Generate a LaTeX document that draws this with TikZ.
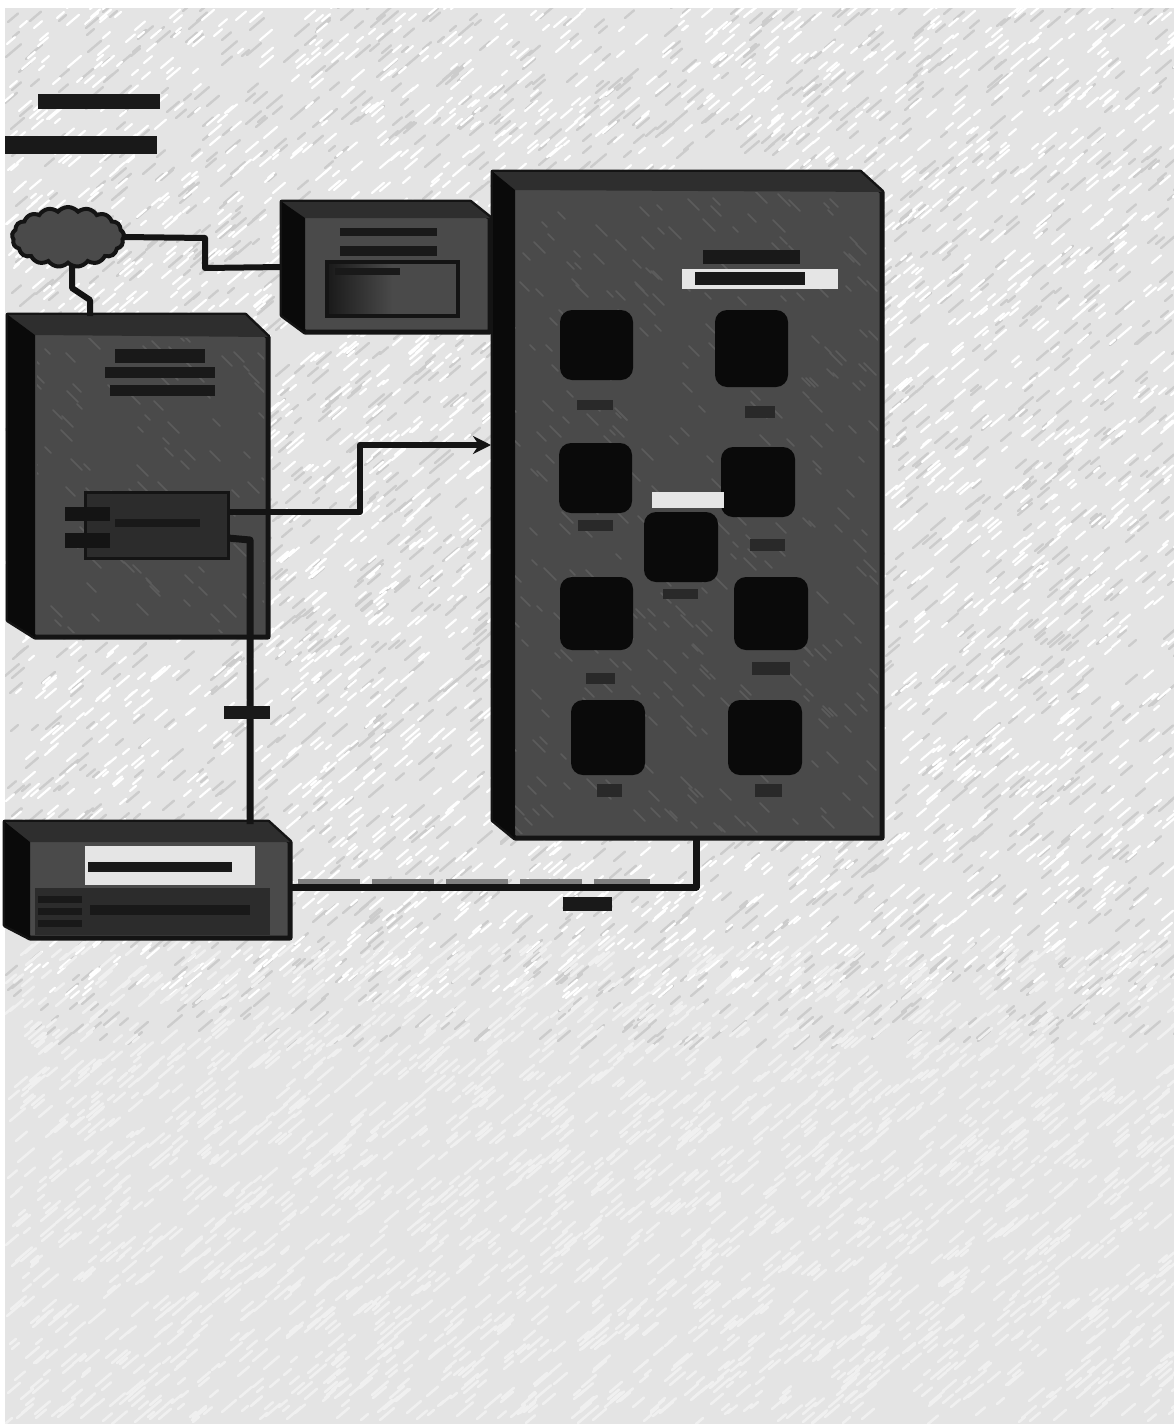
\documentclass[tikz,border=0pt]{standalone}
\usetikzlibrary{fit,shapes.symbols,arrows.meta,calc}
\definecolor{pagegray}{HTML}{E4E4E4}
\definecolor{facegray}{HTML}{4A4A4A}
\definecolor{edgedark}{HTML}{141414}
\definecolor{bevelblack}{HTML}{0A0A0A}
\definecolor{innerdark}{HTML}{2C2C2C}
\tikzset{
  every node/.style={inner sep=0pt,outer sep=0pt},
  panelface/.style={fill=facegray,draw=edgedark,line width=5pt,line join=round},
  bevel/.style={fill=bevelblack,draw=none},
  bevelmid/.style={fill=black!82,draw=none},
  dbunit/.style={fill=black!96,rounded corners=12pt},
  smudge/.style={fill=black!90,draw=none},
  softsmudge/.style={fill=black!84,draw=none},
  strip/.style={fill=white!90!black,draw=none},
  wire/.style={draw=edgedark,line width=6pt,line join=round},
  texbright/.style={draw=white,line width=2.2pt,line cap=round},
  texshade/.style={draw=black!20,line width=2.4pt,line cap=round},
  texdim/.style={draw=black!6,line width=2.6pt,line cap=round},
  texface/.style={draw=white!36!black,line width=1.5pt,line cap=round},
}
\newcommand{\areabox}[6]{\node[fit={(#2,#3)(#4,#5)},#6] (#1) {};}
\begin{document}
\begin{tikzpicture}[x=1pt,y=-1pt]
\useasboundingbox (0,0) rectangle (1174,1424);
\fill[white] (0,0) rectangle (1174,1424);
\fill[pagegray] (5,8) rectangle (1174,1424);
\pgfmathsetseed{11}
\begin{scope}
\clip (5,8) rectangle (1174,1424);
\foreach \i in {1,...,2400}{
  \pgfmathsetmacro{\tx}{random(5,1174)}
  \pgfmathsetmacro{\ty}{random(8,1050)}
  \pgfmathsetmacro{\tl}{random(6,15)}
  \draw[texshade] (\tx,\ty) -- ++(\tl,-0.85*\tl);
}
\foreach \i in {1,...,3400}{
  \pgfmathsetmacro{\tx}{random(5,1174)}
  \pgfmathsetmacro{\ty}{random(8,1000)}
  \pgfmathsetmacro{\tl}{random(5,13)}
  \draw[texbright] (\tx,\ty) -- ++(\tl,-0.85*\tl);
}
\foreach \i in {1,...,2600}{
  \pgfmathsetmacro{\tx}{random(5,1174)}
  \pgfmathsetmacro{\ty}{random(950,1424)}
  \pgfmathsetmacro{\tl}{random(6,16)}
  \draw[texdim] (\tx,\ty) -- ++(\tl,-0.85*\tl);
}
\end{scope}

% title lines
\areabox{titleA}{38}{94}{160}{109}{smudge}
\areabox{titleB}{5}{136}{157}{154}{smudge}

% cloud
\node[cloud,cloud puffs=17,cloud puff arc=100,aspect=2,fill=facegray,draw=edgedark,line width=4pt,minimum width=112pt,minimum height=60pt] (cloudA) at (68,237) {};

% top box
\node[fit={(282,202)(490,332)}] (topbox) {};
\draw[panelface] (282,202) -- (470,202) -- (490,218) -- (490,332) -- (305,332) -- (282,315) -- cycle;
\fill[bevelmid] (282,202) -- (470,202) -- (490,218) -- (305,218) -- cycle;
\fill[bevel] (282,202) -- (305,218) -- (305,332) -- (282,315) -- cycle;
\areabox{toptextA}{340}{228}{437}{236}{smudge}
\areabox{toptextB}{340}{246}{437}{256}{smudge}
\node[fit={(327,262)(458,316)},draw=edgedark,line width=4pt,left color=black!90,right color=facegray,middle color=facegray] (topinner) {};
\areabox{toptextC}{335}{268}{400}{275}{smudge}

% big box
\node[fit={(493,172)(882,838)}] (bigbox) {};
\draw[panelface] (493,172) -- (860,172) -- (882,192) -- (882,838) -- (515,838) -- (493,820) -- cycle;
\fill[bevelmid] (493,172) -- (860,172) -- (882,192) -- (515,190) -- cycle;
\fill[bevel] (493,172) -- (515,190) -- (515,838) -- (493,820) -- cycle;

% left box
\node[fit={(8,315)(268,637)}] (leftbox) {};
\draw[panelface] (8,315) -- (245,315) -- (268,337) -- (268,637) -- (35,637) -- (8,620) -- cycle;
\fill[bevelmid] (8,315) -- (245,315) -- (268,337) -- (35,335) -- cycle;
\fill[bevel] (8,315) -- (35,335) -- (35,637) -- (8,620) -- cycle;

% bottom box
\node[fit={(5,822)(290,938)}] (bottombox) {};
\draw[panelface] (5,822) -- (268,822) -- (290,842) -- (290,938) -- (30,938) -- (5,925) -- cycle;
\fill[bevelmid] (5,822) -- (268,822) -- (290,842) -- (30,842) -- cycle;
\fill[bevel] (5,822) -- (30,842) -- (30,938) -- (5,925) -- cycle;
\areabox{bottomband}{35}{888}{270}{935}{fill=innerdark}
\areabox{bottomstrip}{85}{846}{255}{885}{strip}
\areabox{bottomtext}{88}{862}{232}{872}{smudge}
\areabox{bottomtextB}{90}{905}{250}{915}{smudge}
\areabox{bottomtextC}{38}{896}{82}{903}{smudge}
\areabox{bottomtextD}{38}{908}{82}{915}{smudge}
\areabox{bottomtextE}{38}{920}{82}{927}{smudge}

% texture on the dark faces
\begin{scope}
\clip (515,192) rectangle (878,834) (37,338) rectangle (264,633);
\foreach \i in {1,...,800}{
  \pgfmathsetmacro{\tx}{random(20,870)}
  \pgfmathsetmacro{\ty}{random(190,830)}
  \pgfmathsetmacro{\tl}{random(5,12)}
  \draw[texface] (\tx,\ty) -- ++(\tl,\tl);
}
\end{scope}

% left box contents
\areabox{lefttextA}{115}{349}{205}{363}{smudge}
\areabox{lefttextB}{105}{367}{215}{378}{smudge}
\areabox{lefttextC}{110}{385}{215}{396}{smudge}
\areabox{component}{85}{492}{228}{558}{fill=innerdark,draw=edgedark,line width=3pt}
\areabox{tabA}{65}{507}{110}{521}{fill=black!92}
\areabox{tabB}{65}{533}{110}{548}{fill=black!92}
\areabox{comptext}{115}{519}{200}{527}{smudge}

% big box heading
\areabox{bigtextA}{703}{250}{800}{264}{smudge}
\areabox{bigstrip}{682}{269}{838}{289}{strip}
\areabox{bigtextB}{695}{272}{805}{285}{smudge}

% storage units and their labels
\areabox{unitA}{560}{310}{633}{380}{dbunit}
\areabox{unitB}{715}{310}{788}{387}{dbunit}
\areabox{unitC}{559}{443}{632}{513}{dbunit}
\areabox{unitD}{721}{447}{795}{517}{dbunit}
\areabox{unitE}{644}{512}{718}{582}{dbunit}
\areabox{unitF}{560}{577}{633}{650}{dbunit}
\areabox{unitG}{734}{577}{808}{650}{dbunit}
\areabox{unitH}{571}{700}{645}{775}{dbunit}
\areabox{unitI}{728}{700}{802}{775}{dbunit}
\areabox{stripE}{652}{492}{724}{508}{strip}
\areabox{labA}{577}{400}{613}{410}{softsmudge}
\areabox{labB}{745}{406}{775}{418}{softsmudge}
\areabox{labC}{578}{520}{613}{531}{softsmudge}
\areabox{labD}{750}{539}{785}{551}{softsmudge}
\areabox{labE}{663}{589}{698}{599}{softsmudge}
\areabox{labF}{586}{673}{615}{684}{softsmudge}
\areabox{labG}{752}{662}{790}{675}{softsmudge}
\areabox{labH}{597}{784}{622}{797}{softsmudge}
\areabox{labI}{755}{784}{782}{797}{softsmudge}

% connectors
\coordinate (bendA) at (205,238);
\coordinate (bendB) at (205,268);
\draw[wire] (cloudA.east) -- (bendA) -- (bendB) -- (topbox.west);
\coordinate (cloudDown) at (72,264);
\coordinate (cloudMid) at (72,288);
\coordinate (leftIn) at (90,316);
\draw[wire] (cloudDown) -- (cloudMid) -- (90,300) -- (leftIn);
\coordinate (compOutA) at (228,512);
\coordinate (compOutB) at (228,538);
\coordinate (bigIn) at (491,445);
\draw[wire,-{Stealth[length=18pt,width=18pt]}] (compOutA) -- (360,512) -- (360,445) -- (bigIn);
\coordinate (bottomIn) at (250,824);
\draw[wire,line width=7pt] (compOutB) -- (250,540) -- (bottomIn);
\coordinate (bottomOut) at (290,887);
\coordinate (bigOut) at (696,838);
\draw[draw=gray,line width=5pt,dash pattern=on 62pt off 12pt] (bottomOut) ++(8,-6) -- (650,881);
\draw[wire,line width=7pt] (bottomOut) -- (696,887) -- (bigOut);

% connector labels
\areabox{wirelabA}{224}{706}{270}{719}{smudge}
\areabox{wirelabB}{563}{897}{612}{911}{smudge}
\end{tikzpicture}
\end{document}
